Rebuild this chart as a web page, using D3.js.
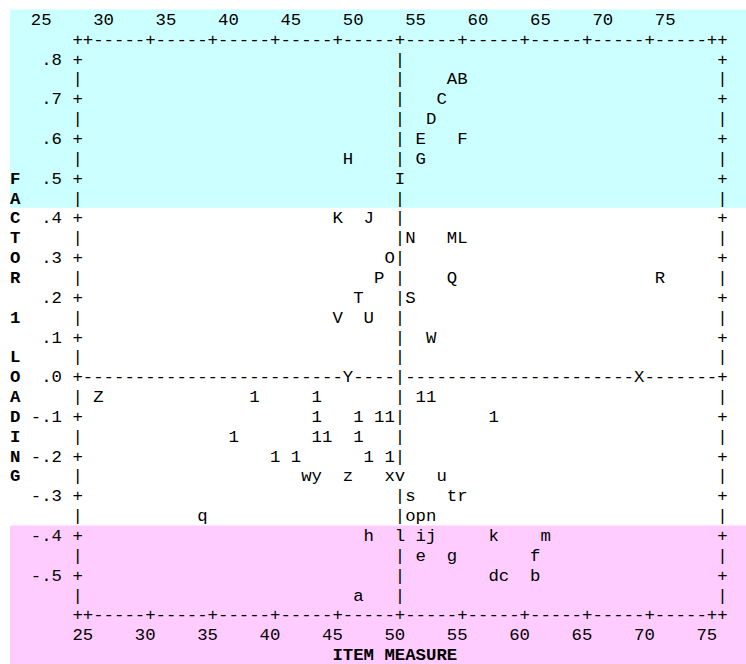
<!DOCTYPE html>
<html><head><meta charset="utf-8">
<script src="https://cdn.jsdelivr.net/npm/d3@7"></script>
<style>html,body{margin:0;padding:0;background:#fff}svg{display:block}</style>
</head><body>
<svg id="chart" width="746" height="664"></svg>
<script>
// ---- data ----
const itemLabels   = ["A","B","C","D","E","F","G","H","I","J","K","L","M","N","O","P","Q","R","S","T","U","V","W","X","Y","Z",
                      "a","b","c","d","e","f","g","h","i","j","k","l","m","n","o","p","q","r","s","t","u","v","w","x","y","z",
                      "1","1","1","1","1","1","1","1","1","1","1","1","1","1","1","1","1"];
const itemMeasures = [54.2,55.0,53.3,52.5,51.7,55.0,51.7,45.8,50.0,47.5,45.0,55.0,54.2,50.8,49.2,48.3,54.2,70.8,50.8,46.7,47.5,45.0,52.5,69.2,45.8,25.8,
                      46.7,60.8,58.3,57.5,51.7,60.8,54.2,47.5,51.7,52.5,57.5,50.0,61.7,52.5,50.8,51.7,34.2,55.0,50.8,54.2,53.3,50.0,42.5,49.2,43.3,45.8,
                      38.3,43.3,51.7,52.5, 43.3,46.7,48.3,49.2,57.5, 36.7,43.3,44.2,46.7, 40.0,41.7,47.5,49.2];
const itemLoadings = [0.75,0.75,0.70,0.65,0.60,0.60,0.55,0.55,0.50,0.40,0.40,0.35,0.35,0.35,0.30,0.25,0.25,0.25,0.20,0.20,0.15,0.15,0.10,0.00,0.00,-0.05,
                      -0.55,-0.50,-0.50,-0.50,-0.45,-0.45,-0.45,-0.40,-0.40,-0.40,-0.40,-0.40,-0.40,-0.35,-0.35,-0.35,-0.35,-0.30,-0.30,-0.30,-0.25,-0.25,-0.25,-0.25,-0.25,-0.25,
                      -0.05,-0.05,-0.05,-0.05, -0.10,-0.10,-0.10,-0.10,-0.10, -0.15,-0.15,-0.15,-0.15, -0.20,-0.20,-0.20,-0.20];
const xTickValues = [25,30,35,40,45,50,55,60,65,70,75];
const xTickLabels = ["25","30","35","40","45","50","55","60","65","70","75"];
const yTickValues = [0.8,0.7,0.6,0.5,0.4,0.3,0.2,0.1,0.0,-0.1,-0.2,-0.3,-0.4,-0.5];
const yTickLabels = [".8",".7",".6",".5",".4",".3",".2",".1",".0","-.1","-.2","-.3","-.4","-.5"];
const yAxisTitle = "FACTOR 1 LOADING";
const xAxisTitle = "ITEM MEASURE";
const meanMeasure = 50;
const zeroLoading = 0;
const highBandFrom = 0.45;   // shaded above this loading
const lowBandFrom = -0.4;    // shaded below this loading

// ---- layout ----
const charW = 10.4, lineH = 19.85, x0 = 10, yC0 = 19.3;
const fontSize = charW / 0.6;
const colX = c => x0 + c * charW;
const lineMid = l => yC0 + l * lineH;
const baseY = l => lineMid(l) + 5.6;

const xCol = d3.scaleLinear().domain([25, 75]).range([7, 67]);
const yLine = d3.scaleLinear().domain([0.8, -0.5]).range([2, 28]);
const cx = v => Math.round(xCol(v));
const ly = v => Math.round(yLine(v));

const leftCol = cx(xTickValues[0]) - 1, rightCol = cx(xTickValues[xTickValues.length-1]) + 1;
const firstLine = ly(yTickValues[0]), lastLine = ly(yTickValues[yTickValues.length-1]) + 1;
const topBorder = firstLine - 1, bottomBorder = lastLine + 1;
const topLabelLine = topBorder - 1, bottomLabelLine = bottomBorder + 1, titleLine = bottomBorder + 2;

const svg = d3.select("#chart");

// background bands
const bands = [
  {from: topLabelLine, to: ly(highBandFrom), fill: "#ccffff"},
  {from: ly(lowBandFrom), to: titleLine, fill: "#ffccff"}
];
svg.selectAll("rect.band").data(bands).join("rect")
  .attr("class","band")
  .attr("x", x0).attr("width", 746 - x0)
  .attr("y", d => lineMid(d.from) - lineH/2)
  .attr("height", d => (d.to - d.from + 1) * lineH)
  .attr("fill", d => d.fill);

// items
const items = itemLabels.map((t, i) => ({ch: t, col: cx(itemMeasures[i]), line: ly(itemLoadings[i])}));
const occupied = new Set(items.map(d => d.line + "," + d.col));

// frame cells
const cells = [];
const put = (line, col, ch, bold) => { if (!occupied.has(line + "," + col)) cells.push({line, col, ch, bold: !!bold}); };
const tickCols = new Set(xTickValues.map(cx));
for (const bl of [topBorder, bottomBorder]) {
  for (let c = leftCol; c <= rightCol; c++) {
    put(bl, c, (c === leftCol || c === rightCol || tickCols.has(c)) ? "+" : "-");
  }
}
const yTickLines = new Set(yTickValues.map(ly));
const zeroL = ly(zeroLoading), meanC = cx(meanMeasure);
for (let l = firstLine; l <= lastLine; l++) {
  const edge = yTickLines.has(l) ? "+" : "|";
  put(l, leftCol, edge);
  put(l, rightCol, edge);
  put(l, meanC, "|");
  if (l === zeroL) {
    for (let c = leftCol + 1; c < rightCol; c++) if (c !== meanC) put(l, c, "-");
  }
}
// y tick labels
yTickValues.forEach((v, i) => {
  const s = yTickLabels[i];
  const start = leftCol - 1 - s.length;
  [...s].forEach((ch, k) => put(ly(v), start + k, ch));
});
// x tick labels top and bottom
xTickValues.forEach((v, i) => {
  const s = xTickLabels[i];
  [...s].forEach((ch, k) => put(topLabelLine, cx(v) - 5 + k, ch));
  [...s].forEach((ch, k) => put(bottomLabelLine, cx(v) - s.length + 1 + k, ch));
});
// axis titles
const yTitleStart = Math.round((firstLine + lastLine) / 2 - yAxisTitle.length / 2 + 0.5);
[...yAxisTitle].forEach((ch, k) => { if (ch !== " ") put(yTitleStart + k, 0, ch, true); });
const xTitleStart = Math.round((cx(xTickValues[0]) + cx(xTickValues[xTickValues.length-1])) / 2 - xAxisTitle.length / 2);
[...xAxisTitle].forEach((ch, k) => { if (ch !== " ") put(titleLine, xTitleStart + k, ch, true); });

const txt = sel => sel
  .attr("x", d => colX(d.col))
  .attr("y", d => baseY(d.line))
  .attr("font-family", "'Liberation Mono', 'Courier New', monospace")
  .attr("font-size", fontSize)
  .attr("fill", "#000")
  .text(d => d.ch);

svg.append("g").attr("class","frame").selectAll("text").data(cells).join("text")
  .call(txt).attr("font-weight", d => d.bold ? "bold" : "normal");
svg.append("g").attr("class","items").selectAll("text").data(items).join("text")
  .call(txt);
</script>
</body></html>
